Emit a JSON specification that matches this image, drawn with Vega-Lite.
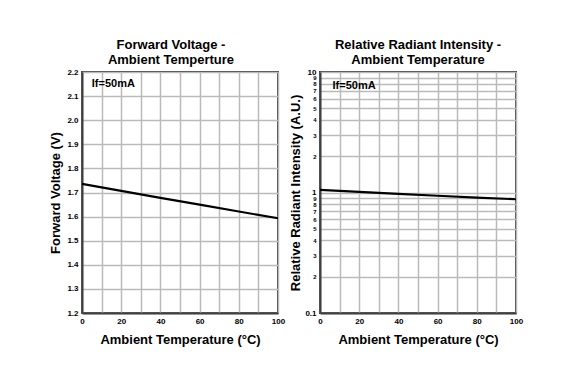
{
 "$schema": "https://vega.github.io/schema/vega-lite/v6.json",
 "background": "white",
 "padding": {"left": 48, "top": 38, "right": 5, "bottom": 5},
 "bounds": "flush",
 "spacing": 42,
 "config": {
  "font": "Liberation Sans",
  "view": {"stroke": "#404040", "strokeWidth": 2},
  "axis": {"labelFont": "Liberation Sans", "labelFontWeight": "bold", "labelFontSize": 8, "labelColor": "black", "titleFont": "Liberation Sans", "titleFontWeight": "bold", "titleFontSize": 13, "titleColor": "black", "ticks": false, "gridColor": "#bababa", "gridWidth": 1.5, "domainColor": "#404040", "domainWidth": 2, "labelOverlap": false, "labelFlush": false},
  "title": {"font": "Liberation Sans", "fontSize": 13, "fontWeight": "bold", "color": "black", "lineHeight": 15, "offset": 1}
 },
 "hconcat": [
  {
   "width": 196, "height": 241,
   "title": {"text": ["Forward Voltage -", "Ambient Temperture"], "dx": -9},
   "layer": [
    {
     "data": {"values": [
      {"t": 0, "v": 1.736}, {"t": 20, "v": 1.707}, {"t": 40, "v": 1.678}, {"t": 60, "v": 1.65}, {"t": 80, "v": 1.621}, {"t": 100, "v": 1.593}
     ]},
     "mark": {"type": "line", "color": "black", "strokeWidth": 2.2},
     "encoding": {
      "x": {"field": "t", "type": "quantitative", "scale": {"domain": [0, 100], "nice": false},
            "axis": {"values": [0, 10, 20, 30, 40, 50, 60, 70, 80, 90, 100], "labelExpr": "datum.value % 20 == 0 ? datum.label : ''", "title": "Ambient Temperature (°C)", "labelPadding": 4, "titlePadding": 8}},
      "y": {"field": "v", "type": "quantitative", "scale": {"domain": [1.2, 2.2], "nice": false, "zero": false},
            "axis": {"values": [1.2, 1.3, 1.4, 1.5, 1.6, 1.7, 1.8, 1.9, 2.0, 2.1, 2.2], "format": ".1f", "title": "Forward Voltage (V)", "labelPadding": 4, "titlePadding": 4}}
     }
    },
    {
     "data": {"values": [{"note": "If=50mA"}]},
     "mark": {"type": "text", "align": "left", "baseline": "middle", "fontSize": 11, "fontWeight": "bold", "font": "Liberation Sans", "color": "black"},
     "encoding": {
      "x": {"datum": 5, "type": "quantitative", "axis": {"values": [0, 10, 20, 30, 40, 50, 60, 70, 80, 90, 100], "labelExpr": "datum.value % 20 == 0 ? datum.label : ''", "title": "Ambient Temperature (°C)", "labelPadding": 4, "titlePadding": 8}},
      "y": {"datum": 2.15, "type": "quantitative", "axis": {"values": [1.2, 1.3, 1.4, 1.5, 1.6, 1.7, 1.8, 1.9, 2.0, 2.1, 2.2], "format": ".1f", "title": "Forward Voltage (V)", "labelPadding": 4, "titlePadding": 4}},
      "text": {"field": "note"}
     }
    }
   ]
  },
  {
   "width": 196, "height": 241,
   "title": {"text": ["Relative Radiant Intensity -", "Ambient Temperature"]},
   "layer": [
    {
     "data": {"values": [
      {"t": 0, "r": 1.052}, {"t": 20, "r": 1.012}, {"t": 40, "r": 0.975}, {"t": 60, "r": 0.94}, {"t": 80, "r": 0.908}, {"t": 100, "r": 0.879}
     ]},
     "mark": {"type": "line", "color": "black", "strokeWidth": 2.2},
     "encoding": {
      "x": {"field": "t", "type": "quantitative", "scale": {"domain": [0, 100], "nice": false},
            "axis": {"values": [0, 10, 20, 30, 40, 50, 60, 70, 80, 90, 100], "labelExpr": "datum.value % 20 == 0 ? datum.label : ''", "title": "Ambient Temperature (°C)", "labelPadding": 4, "titlePadding": 8}},
      "y": {"field": "r", "type": "quantitative", "scale": {"type": "log", "domain": [0.1, 10], "nice": false},
            "axis": {"values": [0.1, 0.2, 0.3, 0.4, 0.5, 0.6, 0.7, 0.8, 0.9, 1, 2, 3, 4, 5, 6, 7, 8, 9, 10],
                     "labelExpr": "datum.value < 0.15 ? '0.1' : (datum.value < 0.95 ? format(datum.value * 10, '.0f') : format(datum.value, '.0f'))",
                     "labelFontSize": {"condition": {"test": "datum.value < 0.15 || (datum.value > 0.95 && datum.value < 1.05) || datum.value > 9.5", "value": 8}, "value": 6},
                     "title": "Relative Radiant Intensity (A.U.)", "labelPadding": 4, "titlePadding": 2}}
     }
    },
    {
     "data": {"values": [{"note": "If=50mA"}]},
     "mark": {"type": "text", "align": "left", "baseline": "middle", "fontSize": 11, "fontWeight": "bold", "font": "Liberation Sans", "color": "black"},
     "encoding": {
      "x": {"datum": 6.4, "type": "quantitative", "axis": {"values": [0, 10, 20, 30, 40, 50, 60, 70, 80, 90, 100], "labelExpr": "datum.value % 20 == 0 ? datum.label : ''", "title": "Ambient Temperature (°C)", "labelPadding": 4, "titlePadding": 8}},
      "y": {"datum": 7.6, "type": "quantitative", "axis": {"values": [0.1, 0.2, 0.3, 0.4, 0.5, 0.6, 0.7, 0.8, 0.9, 1, 2, 3, 4, 5, 6, 7, 8, 9, 10],
                     "labelExpr": "datum.value < 0.15 ? '0.1' : (datum.value < 0.95 ? format(datum.value * 10, '.0f') : format(datum.value, '.0f'))",
                     "labelFontSize": {"condition": {"test": "datum.value < 0.15 || (datum.value > 0.95 && datum.value < 1.05) || datum.value > 9.5", "value": 8}, "value": 6},
                     "title": "Relative Radiant Intensity (A.U.)", "labelPadding": 4, "titlePadding": 2}},
      "text": {"field": "note"}
     }
    }
   ]
  }
 ]
}
